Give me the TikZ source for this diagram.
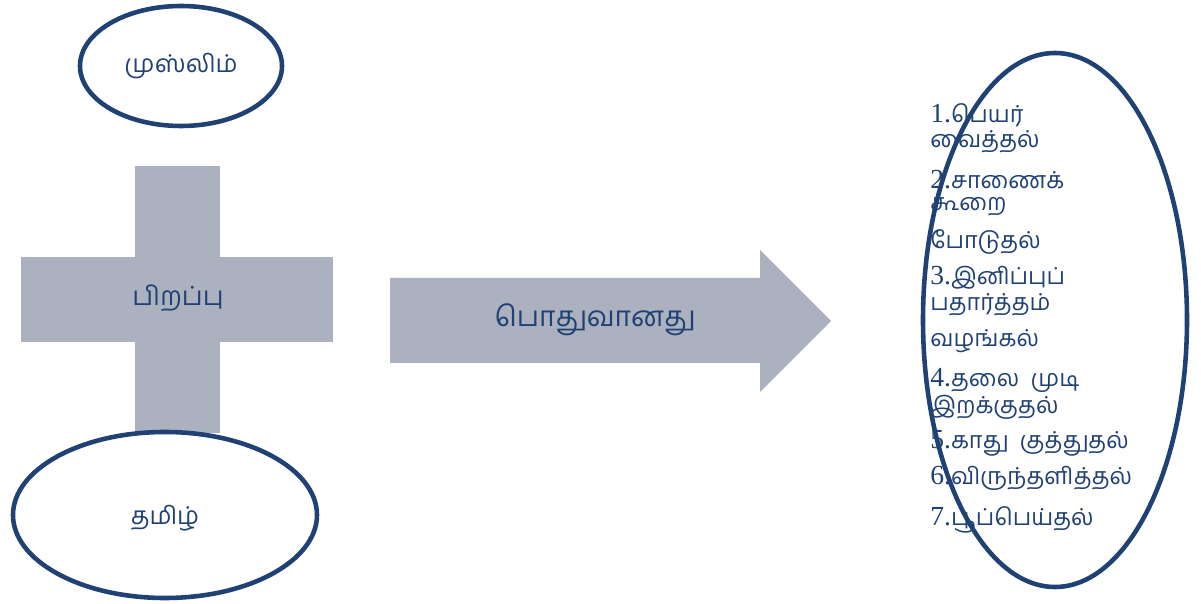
\documentclass[tikz,border=0pt]{standalone}
\usepackage{fontspec}
\usepackage{tikz}
\usetikzlibrary{positioning}
\newfontfamily\tamil[Script=Tamil]{Hind Madurai}
\newfontfamily\latin[Scale=1.18]{Liberation Serif}
\definecolor{darkblue}{HTML}{1F4173}
\definecolor{crossgray}{HTML}{ABB1BF}
\tikzset{
  ring/.style={draw=darkblue,line width=2.6pt},
  label/.style={text=darkblue,font=\tamil},
  item/.style={text=darkblue,font=\tamil\fontsize{13.3}{16}\selectfont,anchor=west,inner sep=0pt}
}

\begin{document}
\begin{tikzpicture}[x=0.02cm,y=-0.02cm]
\useasboundingbox (0,0) rectangle (1201,604);

\draw[ring] (181,66) ellipse (101 and 60);
\node[label,font=\tamil\fontsize{14}{16}\selectfont] (muslim) at (181,66) {முஸ்லிம்};

\fill[crossgray] (135,166) rectangle (220,433);
\fill[crossgray] (21,257) rectangle (333,342);
\node[label,font=\tamil\fontsize{15}{18}\selectfont] (birth) at (178,298) {பிறப்பு};

\draw[ring,fill=white] (165,515) ellipse (152 and 83);
\node[label,font=\tamil\fontsize{14}{16}\selectfont] (tamil) at (165,518) {தமிழ்};

\fill[crossgray] (390,278) -- (760,278) -- (760,250) -- (831,321) -- (760,392) -- (760,363) -- (390,363) -- cycle;
\node[label,font=\tamil\fontsize{16}{20}\selectfont] (common) at (595,320) {பொதுவானது};

\draw[ring] (1055,320) ellipse (132 and 267);

\foreach \name/\y/\txt in {
  i1/115/{{\latin 1.}பெயர்},
  i1b/142/{வைத்தல்},
  i2/180/{{\latin 2.}சாணைக்},
  i2b/207/{கூறை},
  i2c/242/{போடுதல்},
  i3/278/{{\latin 3.}இனிப்புப்},
  i3b/305/{பதார்த்தம்},
  i3c/341/{வழங்கல்},
  i4/380/{{\latin 4.}தலை\ \ முடி},
  i4b/407/{இறக்குதல்},
  i5/443/{{\latin 5.}காது\ \ குத்துதல்},
  i6/478/{{\latin 6.}விருந்தளித்தல்},
  i7/520/{{\latin 7.}பூப்பெய்தல்}}
  \node[item] (\name) at (930,\y) {\txt};
\end{tikzpicture}
\end{document}
